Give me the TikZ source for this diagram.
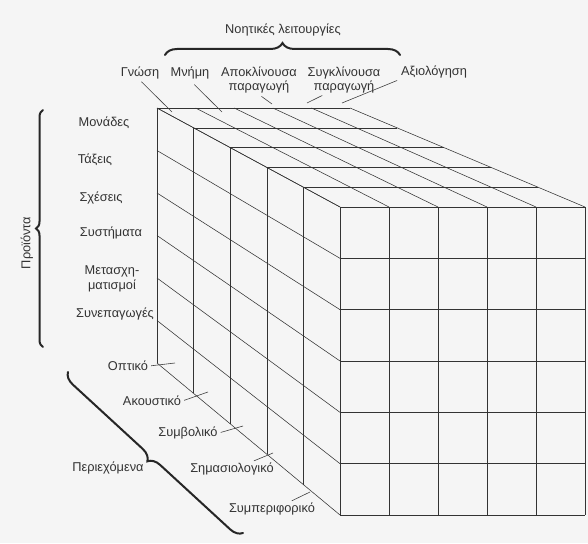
\documentclass[tikz,border=0pt]{standalone}
\usepackage{fontspec}
\setmainfont{Liberation Sans}
\usetikzlibrary{calc,decorations.pathreplacing,positioning}

\begin{document}
\begin{tikzpicture}[x=1pt,y=-1pt,
  lbl/.style={text=black!80,font=\fontsize{12.8}{14.5}\selectfont,inner sep=1pt},
  twoline/.style={lbl,align=center},
  leader/.style={draw=black!75,line width=0.6pt,shorten <=2pt},
  grid/.style={draw=black!80,line width=0.55pt},
  bracket/.style={draw=black!85,line width=2pt,line cap=round,
    decorate,decoration={brace,amplitude=#1}}]

  \fill[black!4] (0,0) rectangle (588,543);

  % cube corners (back face, front face)
  \coordinate (btl) at (157,108);
  \coordinate (btr) at (350,108);
  \coordinate (bbl) at (157,363);
  \coordinate (ftl) at (340,207);
  \coordinate (ftr) at (585,207);
  \coordinate (fbl) at (340,515);
  \coordinate (fbr) at (585,515);

  % front face
  \foreach \i in {0,...,5}
    \draw[grid] ($(ftl)!\i/5!(ftr)$) -- ($(fbl)!\i/5!(fbr)$);
  \foreach \j in {0,...,6}
    \draw[grid] ($(ftl)!\j/6!(fbl)$) -- ($(ftr)!\j/6!(fbr)$);
  % top face
  \foreach \i in {0,...,5}
    \draw[grid] ($(btl)!\i/5!(btr)$) -- ($(ftl)!\i/5!(ftr)$);
  \foreach \d in {0,...,4}
    \draw[grid] ($(btl)!\d/5!(ftl)$) -- ($(btr)!\d/5!(ftr)$);
  % left face
  \foreach \j in {0,...,6}
    \draw[grid] ($(btl)!\j/6!(bbl)$) -- ($(ftl)!\j/6!(fbl)$);
  \foreach \d in {0,...,4}
    \draw[grid] ($(btl)!\d/5!(ftl)$) -- ($(bbl)!\d/5!(fbl)$);

  % operations
  \node[lbl] (opers) at (283,30) {Νοητικές λειτουργίες};
  \coordinate (opbr-l) at (165,55);
  \coordinate (opbr-r) at (400,55);
  \draw[bracket=12] (opbr-l) -- (opbr-r);

  \node[lbl] (gnosi) at (140,73) {Γνώση};
  \node[lbl] (mnimi) at (190,73) {Μνήμη};
  \node[twoline] (apokl) at (259,80) {Αποκλίνουσα\\παραγωγή};
  \node[twoline] (sygkl) at (344,80) {Συγκλίνουσα\\παραγωγή};
  \node[lbl] (axiol) at (434,72) {Αξιολόγηση};

  \coordinate (c-gnosi) at (172,112);
  \coordinate (c-mnimi) at (222,112);
  \coordinate (c-apokl) at (272,104);
  \coordinate (c-sygkl) at (307,103);
  \coordinate (c-axiol) at (342,103);

  \draw[leader] (gnosi.south) -- (c-gnosi);
  \draw[leader,shorten <=6pt] (mnimi.south) -- (c-mnimi);
  \draw[leader,shorten <=3pt] (apokl.south) -- (c-apokl);
  \draw[leader] ([xshift=-20pt]sygkl.south) -- (c-sygkl);
  \draw[leader,shorten <=3pt] (axiol.south west) -- (c-axiol);

  % products
  \node[lbl,rotate=90] (prods) at (27,243) {Προϊόντα};
  \coordinate (prbr-b) at (43,347);
  \coordinate (prbr-t) at (43,110);
  \draw[bracket=7] (prbr-b) -- (prbr-t);

  \node[lbl] (monades) at (104,123) {Μονάδες};
  \node[lbl] (taxeis) at (95,160) {Τάξεις};
  \node[lbl] (scheseis) at (101,198) {Σχέσεις};
  \node[lbl] (systimata) at (111,233) {Συστήματα};
  \node[twoline] (metasch) at (112,279) {Μετασχη-\\ματισμοί};
  \node[lbl] (synep) at (115,314) {Συνεπαγωγές};

  % contents
  \node[lbl] (periech) at (108,468) {Περιεχόμενα};
  \coordinate (pebr-b) at (243,533);
  \coordinate (pebr-t) at (68,372);
  \draw[bracket=12] (pebr-b) -- (pebr-t);

  \node[lbl] (optiko) at (128,366) {Οπτικό};
  \node[lbl] (akoust) at (152,401) {Ακουστικό};
  \node[lbl] (symvol) at (188,433) {Συμβολικό};
  \node[lbl] (simas) at (232,469) {Σημασιολογικό};
  \node[lbl] (sympe) at (272,509) {Συμπεριφορικό};

  \coordinate (c-optiko) at (175,363);
  \coordinate (c-akoust) at (208,392);
  \coordinate (c-symvol) at (243,426);
  \coordinate (c-simas) at (273,453);
  \coordinate (c-sympe) at (310,492);

  \draw[leader] (optiko.east) -- (c-optiko);
  \draw[leader] (akoust.east) -- (c-akoust);
  \draw[leader] (symvol.east) -- (c-symvol);
  \draw[leader] ([xshift=20pt]simas.north) -- (c-simas);
  \draw[leader] ([xshift=18pt]sympe.north) -- (c-sympe);
\end{tikzpicture}
\end{document}
